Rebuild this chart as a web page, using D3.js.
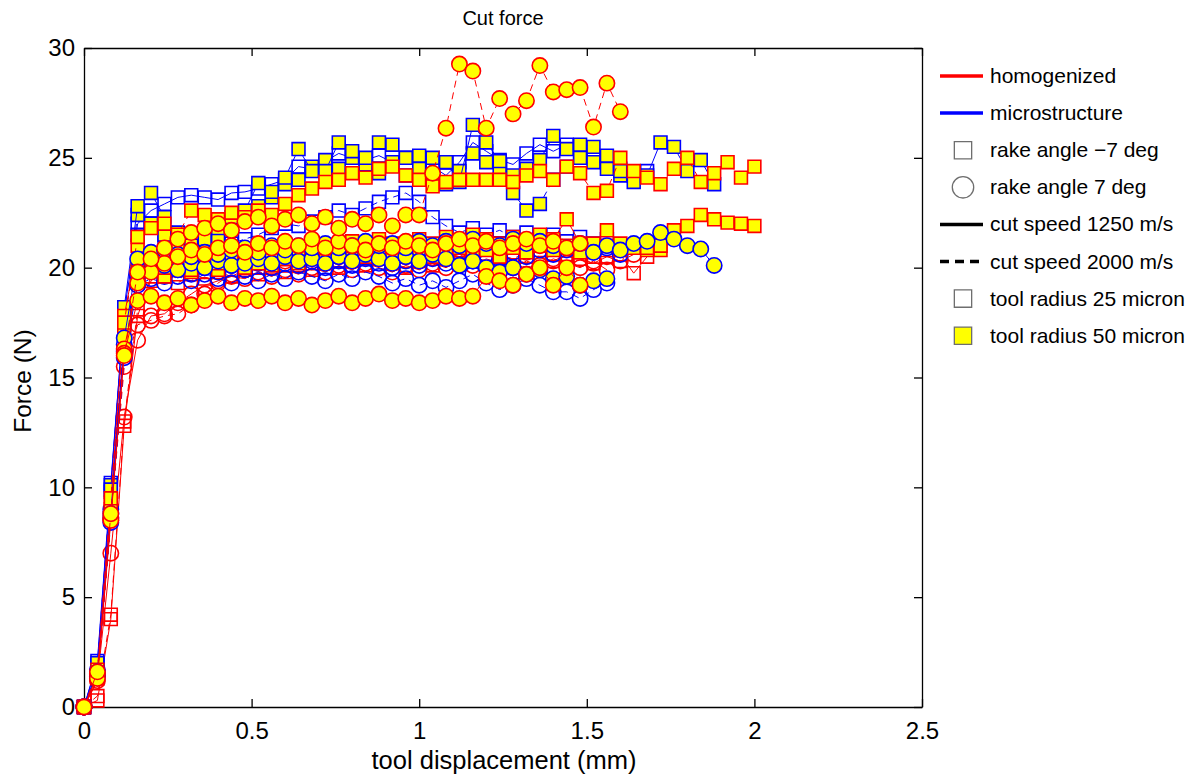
<!DOCTYPE html>
<html>
<head>
<meta charset="utf-8">
<script src="https://cdn.jsdelivr.net/npm/d3@7"></script>
<style>
  body { margin: 0; background: #fff; }
  svg text { font-family: "Liberation Sans", Arial, sans-serif; fill: #000; }
</style>
</head>
<body>
<svg id="chart" width="1199" height="780"></svg>
<script>
// Tool displacement samples (mm)
const displacement = [0, 0.04, 0.08, 0.12, 0.16, 0.2, 0.24, 0.28, 0.32, 0.36, 0.4, 0.44, 0.48, 0.52, 0.56, 0.6,
  0.64, 0.68, 0.72, 0.76, 0.8, 0.84, 0.88, 0.92, 0.96, 1.0, 1.04, 1.08, 1.12, 1.16, 1.2, 1.24, 1.28, 1.32, 1.36,
  1.4, 1.44, 1.48, 1.52, 1.56, 1.6, 1.64, 1.68, 1.72, 1.76, 1.8, 1.84, 1.88, 1.92, 1.96, 2.0];

// Cut force (N) per simulation run
const mSq1250r25 = [0, 2.1, 10.2, 18.0, 22.0, 22.6, 22.9, 23.2, 23.3, 23.2, 23.1, 23.4, 23.45, 23.6, 23.8, 24.0, 24.6, 24.5, 24.85, 25.2,
  25.0, 24.9, 25.1, 24.8, 25.0, 24.9, 24.6, 24.2, 24.8, 25.7, 25.3, 24.9, 24.7, 25.2, 25.6, 25.3, 25.6, 25.2, 25.0, 24.8, 24.5, 24.2, 24.4];
const mSq2000r25 = [0, 1.7, 9.8, 17.4, 21.5, 22.0, 21.4, 21.0, 20.9, 21.0, 21.0, 21.1, 21.3, 21.5, 21.8, 22.0, 21.9, 22.1, 22.3, 22.6,
  22.4, 22.7, 23.0, 23.2, 23.4, 23.0, 22.3, 21.9, 21.6, 21.8, 21.5, 21.7, 21.4, 21.6, 21.3, 21.5, 21.2, 21.4, 21.1, 21.3, 21.0];
const mCi1250r25 = [0, 1.7, 9.0, 16.5, 19.6, 19.9, 19.6, 19.9, 19.7, 20.0, 19.8, 20.1, 19.9, 20.2, 20.0, 20.2, 20.1, 20.3, 20.0, 20.3,
  20.1, 20.4, 20.2, 20.0, 20.3, 20.1, 20.4, 20.2, 20.5, 20.3, 20.6, 20.4, 20.7, 20.5, 20.8, 20.6, 20.8, 21.0, 20.7, 20.9, 20.6];
const mCi2000r25 = [0, 1.4, 8.4, 15.9, 19.2, 19.5, 19.3, 19.6, 19.4, 19.7, 19.5, 19.3, 19.6, 19.4, 19.7, 19.5, 19.8, 19.6, 19.4, 19.7,
  19.5, 19.8, 19.6, 19.3, 19.5, 19.2, 19.4, 19.1, 19.4, 19.7, 19.3, 19.0, 19.2, 19.5, 19.2, 18.9, 18.9, 18.6, 19.0, 19.3];
const hSq1250r25 = [0, 0.3, 4.0, 12.8, 17.8, 19.6, 19.9, 19.7, 20.0, 19.8, 20.1, 19.9, 20.2, 20.0, 20.3, 20.1, 20.4, 20.2, 20.5, 20.3,
  20.6, 20.4, 20.7, 20.5, 20.3, 20.6, 20.4, 20.7, 20.5, 20.8, 20.6, 20.4, 20.7, 20.5, 20.8, 20.6, 20.9, 20.7, 20.5, 20.8, 20.6, 19.75, 20.5];
const hSq2000r25 = [0, 0.5, 4.2, 13.0, 18.1, 19.4, 19.6, 19.3, 19.7, 19.5, 19.8, 19.6, 19.9, 19.7, 20.0, 19.8, 20.1, 19.9, 20.2, 20.0,
  20.3, 20.1, 20.4, 20.2, 20.0, 20.3, 20.1, 20.4, 20.2, 20.5, 20.3, 20.1, 20.4, 20.2, 20.5, 20.3, 20.6, 20.4, 20.2, 20.5, 20.3];
const hCi1250r25 = [0, 1.2, 7.0, 13.2, 16.7, 17.8, 17.9, 18.4, 18.8, 19.2, 19.4, 19.6, 19.5, 19.8, 19.6, 19.9, 19.7, 20.0, 19.8, 20.1,
  19.9, 20.2, 20.0, 19.8, 20.1, 19.9, 20.2, 20.0, 20.3, 20.1, 20.4, 20.2, 20.0, 20.3, 20.1, 20.4, 20.2, 20.0, 20.3, 19.9];
const hCi2000r25 = [0, 1.4, 8.5, 15.5, 17.4, 17.6, 17.8, 17.9, 18.3, 18.8, 19.3, 19.7, 19.9, 20.2, 20.0, 20.3, 20.1, 20.4, 20.2, 20.5,
  20.3, 20.6, 20.4, 20.2, 20.5, 20.3, 20.6, 20.4, 20.7, 20.5, 20.3, 20.6, 20.4, 20.7, 20.5, 20.3, 20.6, 20.4, 20.2, 20.5, 20.3, 20.6];
const mSq1250r50 = [0, 2.0, 9.9, 18.2, 22.8, 23.4, 22.3, 21.6, 21.0, 21.3, 21.8, 22.3, 22.6, 23.85, 23.45, 24.1, 25.4, 24.4, 24.4, 25.7,
  25.3, 25.0, 25.7, 25.6, 25.0, 25.1, 25.0, 24.8, 23.9, 26.5, 25.7, 24.85, 24.2, 24.5, 24.9, 26.0, 25.4, 25.6, 25.5, 25.1, 24.4, 23.9,
  24.2, 25.7, 25.5, 24.4, 24.9, 23.8];
const mSq2000r50 = [0, 1.9, 10.1, 17.9, 22.4, 22.0, 21.5, 21.0, 20.5, 20.9, 21.4, 21.9, 22.4, 22.8, 23.2, 23.8, 24.0, 24.6, 24.9, 24.5,
  25.0, 24.7, 24.3, 24.8, 24.2, 24.5, 24.0, 23.8, 24.4, 25.2, 24.8, 24.3, 23.4, 22.6, 22.9, 24.0, 24.6, 25.0, 24.8, 24.5, 24.2];
const hSq1250r50 = [0, 1.5, 9.3, 17.8, 21.0, 20.5, 20.0, 20.2, 19.9, 20.4, 20.2, 20.6, 20.4, 20.8, 20.6, 21.0, 20.8, 20.7, 21.0, 20.9,
  21.2, 21.0, 21.3, 21.1, 21.0, 21.3, 21.1, 21.4, 21.2, 21.5, 21.3, 21.1, 21.4, 21.2, 21.5, 21.3, 22.2, 21.1, 21.1, 21.7, 21.1, 20.9,
  20.9, 21.0, 21.7, 21.9, 22.4, 22.2, 22.05, 22.0, 21.9];
const hSq2000r50 = [0, 1.7, 9.5, 17.5, 21.4, 21.8, 22.0, 21.5, 22.6, 22.4, 22.2, 22.5, 22.3, 22.6, 22.4, 22.9, 23.3, 23.6, 23.9, 24.0,
  24.3, 24.1, 24.5, 24.6, 24.2, 24.0, 23.7, 23.9, 24.0, 24.0, 24.0, 24.0, 23.9, 24.2, 24.4, 24.0, 24.6, 24.3, 23.4, 23.5, 25.0, 24.4,
  24.1, 23.8, 24.5, 25.0, 23.9, 24.3, 24.8, 24.1, 24.6];
const hSqExtr50 = [0, 1.3, 9.0, 17.0, 20.2, 20.0, 19.6, 20.0, 19.8, 20.1, 19.9, 20.3, 20.0, 20.2, 20.1, 20.4, 20.2, 20.5, 20.3, 20.6,
  20.4, 20.5, 20.7, 20.4, 20.6, 20.8, 20.5, 20.7, 20.9, 20.6, 20.8, 20.5, 20.9, 20.7, 21.0, 20.8, 21.0, 20.7, 20.9, 21.0, 20.8, 20.9, 20.8, 20.8];
const mCi1250r50 = [0, 1.6, 8.8, 16.8, 20.4, 20.7, 20.8, 20.6, 20.5, 20.7, 20.6, 20.8, 20.9, 20.7, 21.0, 20.8, 21.0, 20.9, 21.1, 20.9,
  21.0, 21.2, 21.0, 21.1, 20.9, 21.2, 21.0, 21.2, 21.0, 21.3, 21.1, 21.0, 21.3, 21.1, 21.2, 21.0, 20.9, 21.1, 20.7, 21.0, 20.8, 21.1,
  21.2, 21.6, 21.3, 21.0, 20.85, 20.1];
const mCi2000r50 = [0, 1.5, 8.6, 16.2, 19.8, 19.9, 20.1, 19.9, 20.2, 20.0, 20.3, 20.1, 20.2, 20.4, 20.2, 20.5, 20.3, 20.4, 20.2, 20.5,
  20.3, 20.6, 20.4, 20.2, 20.5, 20.3, 20.6, 20.4, 20.1, 20.3, 20.0, 19.8, 20.0, 19.7, 19.9, 19.5, 19.6, 19.2, 19.4, 19.5];
const hCi1250r50 = [0, 1.3, 8.5, 16.1, 18.5, 18.7, 18.4, 18.6, 18.3, 18.5, 18.7, 18.4, 18.6, 18.5, 18.7, 18.4, 18.6, 18.3, 18.5, 18.7,
  18.4, 18.6, 18.8, 18.5, 18.6, 18.4, 18.5, 18.7, 18.6, 18.7, 19.6, 19.4, 19.2, 19.7, 20.0, 19.2, 20.0, 19.2];
const hCiMid50 = [0, 1.5, 8.6, 16.3, 19.3, 19.8, 20.2, 20.5, 20.8, 20.6, 20.9, 21.0, 20.7, 21.1, 20.9, 21.2, 21.0, 21.3, 20.9, 21.2,
  21.0, 20.8, 21.1, 20.9, 21.2, 21.0, 20.8, 21.1, 21.3, 21.0, 21.2, 20.9, 21.1, 21.3, 21.0, 21.2, 20.9, 21.1];
const hCi2000r50 = [0, 1.6, 8.8, 16.0, 19.8, 20.4, 20.9, 21.3, 21.6, 21.8, 22.0, 21.7, 22.1, 22.3, 21.9, 22.2, 22.4, 22.0, 22.3, 21.8,
  22.2, 22.0, 22.4, 21.9, 22.4, 22.4, 24.3, 26.35, 29.27, 28.95, 26.35, 27.7, 27.0, 27.6, 29.2, 28.0, 28.1, 28.2, 26.4, 28.4, 27.1];

// Run attributes (drawing order: open markers first, filled markers last)
const runForces   = [hCi1250r25, hCi2000r25, hSq1250r25, hSq2000r25, mCi1250r25, mCi2000r25, mSq1250r25, mSq2000r25,
                     mSq2000r50, mSq1250r50, hSqExtr50, hSq1250r50, hSq2000r50, mCi2000r50, mCi1250r50, hCiMid50, hCi1250r50, hCi2000r50];
const runMaterial = ["homogenized", "homogenized", "homogenized", "homogenized", "microstructure", "microstructure", "microstructure", "microstructure",
                     "microstructure", "microstructure", "homogenized", "homogenized", "homogenized", "microstructure", "microstructure", "homogenized", "homogenized", "homogenized"];
const runRake     = [7, 7, -7, -7, 7, 7, -7, -7, -7, -7, -7, -7, -7, 7, 7, 7, 7, 7];
const runSpeed    = [1250, 2000, 1250, 2000, 1250, 2000, 1250, 2000, 2000, 1250, 2000, 1250, 2000, 2000, 1250, 1250, 1250, 2000];
const runRadius   = [25, 25, 25, 25, 25, 25, 25, 25, 50, 50, 50, 50, 50, 50, 50, 50, 50, 50];

// Legend entries
const legendLabels = ["homogenized", "microstructure", "rake angle \u22127 deg", "rake angle 7 deg",
  "cut speed 1250 m/s", "cut speed 2000 m/s", "tool radius 25 micron", "tool radius 50 micron"];
const legendKinds = ["line-h", "line-m", "square", "circle", "solid", "dashed", "open", "filled"];

const xTicks = [0, 0.5, 1, 1.5, 2, 2.5];
const yTicks = [0, 5, 10, 15, 20, 25, 30];

const svg = d3.select("#chart");
const x = d3.scaleLinear().domain([0, 2.5]).range([84, 922]);
const y = d3.scaleLinear().domain([0, 30]).range([707, 48]);

const colour = d3.scaleOrdinal().domain(["homogenized", "microstructure"]).range(["#ff0000", "#0000ff"]);
const shape = d3.scaleOrdinal().domain([-7, 7]).range([d3.symbolSquare, d3.symbolCircle]);
const shapeSize = d3.scaleOrdinal().domain([-7, 7]).range([165, 185]);
const dash = d3.scaleOrdinal().domain([1250, 2000]).range([null, "7,5"]);
const fill = d3.scaleOrdinal().domain([25, 50]).range(["none", "#ffff00"]);

// Axes frame with inward ticks on all four sides
const fmt = d => d3.format("")(d);
svg.append("g").attr("transform", "translate(0,707)")
  .call(d3.axisBottom(x).tickValues(xTicks).tickFormat(fmt).tickSizeInner(-8).tickSizeOuter(0).tickPadding(15))
  .call(g => g.selectAll("text").attr("font-size", 24).attr("font-family", "Liberation Sans, Arial, sans-serif"));
svg.append("g").attr("transform", "translate(84,0)")
  .call(d3.axisLeft(y).tickValues(yTicks).tickFormat(fmt).tickSizeInner(-8).tickSizeOuter(0).tickPadding(9))
  .call(g => g.selectAll("text").attr("font-size", 24).attr("font-family", "Liberation Sans, Arial, sans-serif"));
svg.append("g").attr("transform", "translate(0,48)")
  .call(d3.axisTop(x).tickValues(xTicks).tickFormat("").tickSizeInner(-8).tickSizeOuter(0));
svg.append("g").attr("transform", "translate(922,0)")
  .call(d3.axisRight(y).tickValues(yTicks).tickFormat("").tickSizeInner(-8).tickSizeOuter(0));
svg.selectAll(".domain, .tick line").attr("stroke", "#000").attr("stroke-width", 1.3);

// Runs: connecting line, then markers
const line = d3.line().x((d, i) => x(displacement[i])).y(d => y(d));
runForces.forEach((vals, k) => {
  const c = colour(runMaterial[k]);
  const g = svg.append("g");
  g.append("path").datum(vals)
    .attr("d", line).attr("fill", "none").attr("stroke", c).attr("stroke-width", 1)
    .attr("stroke-dasharray", dash(runSpeed[k]));
  g.selectAll("path.mk").data(vals).join("path").attr("class", "mk")
    .attr("transform", (d, i) => `translate(${x(displacement[i])},${y(d)})`)
    .attr("d", d3.symbol().type(shape(runRake[k])).size(shapeSize(runRake[k])))
    .attr("fill", fill(runRadius[k])).attr("stroke", c).attr("stroke-width", 1.6);
});

// Title and axis labels
svg.append("text").attr("x", 503).attr("y", 25).attr("text-anchor", "middle").attr("font-size", 20).text("Cut force");
svg.append("text").attr("x", 504).attr("y", 769).attr("text-anchor", "middle").attr("font-size", 25.5).text("tool displacement (mm)");
svg.append("text").attr("transform", "translate(31,381) rotate(-90)").attr("text-anchor", "middle").attr("font-size", 24.5).text("Force (N)");

// Legend
const legend = svg.append("g");
legendLabels.forEach((lab, i) => {
  const cy = 76 + i * 37.1;
  const kind = legendKinds[i];
  if (kind === "line-h" || kind === "line-m" || kind === "solid" || kind === "dashed") {
    const c = kind === "line-h" ? colour("homogenized") : kind === "line-m" ? colour("microstructure") : "#000";
    legend.append("line").attr("x1", 940).attr("x2", 983).attr("y1", cy).attr("y2", cy)
      .attr("stroke", c).attr("stroke-width", 3.5)
      .attr("stroke-dasharray", kind === "dashed" ? "9,6" : null);
  } else {
    const t = kind === "circle" ? d3.symbolCircle : d3.symbolSquare;
    const sz = kind === "circle" ? 360 : 300;
    legend.append("path").attr("transform", `translate(963,${cy})`)
      .attr("d", d3.symbol().type(t).size(sz))
      .attr("fill", kind === "filled" ? fill(50) : "#fff").attr("stroke", "#6e6e6e").attr("stroke-width", 1.3);
  }
  legend.append("text").attr("x", 990).attr("y", cy + 7).attr("font-size", 21).text(lab);
});
</script>
</body>
</html>
